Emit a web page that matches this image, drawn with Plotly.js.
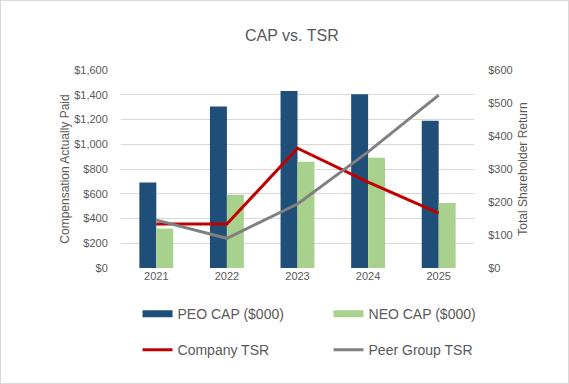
<!DOCTYPE html>
<html>
<head>
<meta charset="utf-8">
<script src="https://cdn.plot.ly/plotly-3.0.1.min.js"></script>
<style>
html,body{margin:0;padding:0;background:#fff;}
#wrap{position:relative;width:569px;height:384px;}
#chart{position:absolute;left:0;top:0;width:569px;height:384px;}
#frame{position:absolute;left:0;top:0;width:569px;height:384px;box-sizing:border-box;border:1px solid #d9d9d9;pointer-events:none;}
</style>
</head>
<body>
<div id="wrap"><div id="chart"></div><div id="frame"></div></div>
<script>
var years = ['2021', '2022', '2023', '2024', '2025'];
var peoCap = [690, 1305, 1430, 1405, 1190];
var neoCap = [318, 592, 858, 890, 525];
var companyTsr = [133, 133, 363, 260, 166];
var peerTsr = [145, 90, 194, 352, 524];

var TXT = '#595959';
var FONT = 'Liberation Sans, Arial, sans-serif';
var PEO_COLOR = '#1F4E79', NEO_COLOR = '#A9D18E', CO_COLOR = '#C00000', PEER_COLOR = '#808080';

var traces = [
  {type: 'bar', x: years, y: peoCap, name: 'PEO CAP ($000)', marker: {color: PEO_COLOR}, showlegend: false, hoverinfo: 'y'},
  {type: 'bar', x: years, y: neoCap, name: 'NEO CAP ($000)', marker: {color: NEO_COLOR}, showlegend: false, hoverinfo: 'y'},
  {type: 'scatter', mode: 'lines', x: years, y: companyTsr, yaxis: 'y2', name: 'Company TSR', line: {color: CO_COLOR, width: 3}, showlegend: false},
  {type: 'scatter', mode: 'lines', x: years, y: peerTsr, yaxis: 'y2', name: 'Peer Group TSR', line: {color: PEER_COLOR, width: 3}, showlegend: false},
  // legend entries
  {type: 'scatter', mode: 'lines', x: [null], y: [null], name: 'PEO CAP ($000)', line: {color: PEO_COLOR, width: 7}, legend: 'legend'},
  {type: 'scatter', mode: 'lines', x: [null], y: [null], name: 'NEO CAP ($000)', line: {color: NEO_COLOR, width: 7}, legend: 'legend'},
  {type: 'scatter', mode: 'lines', x: [null], y: [null], name: 'Company TSR', line: {color: CO_COLOR, width: 3}, legend: 'legend2'},
  {type: 'scatter', mode: 'lines', x: [null], y: [null], name: 'Peer Group TSR', line: {color: PEER_COLOR, width: 3}, legend: 'legend2'}
];

var legendBase = {
  orientation: 'h', xanchor: 'right', yanchor: 'middle', x: 1.129,
  entrywidth: 146, entrywidthmode: 'pixels', itemwidth: 30,
  font: {family: FONT, size: 14, color: TXT}, bgcolor: 'rgba(0,0,0,0)',
  itemclick: false, itemdoubleclick: false
};

var layout = {
  width: 569, height: 384,
  margin: {l: 121, r: 95, t: 70, b: 116, pad: 0},
  paper_bgcolor: '#ffffff', plot_bgcolor: '#ffffff',
  font: {family: FONT, size: 11, color: TXT},
  title: {text: 'CAP vs. TSR', font: {family: FONT, size: 16, color: TXT}, x: 0.513, xanchor: 'center', y: 0.908, yanchor: 'middle'},
  barmode: 'group', bargap: 0.52, bargroupgap: 0,
  xaxis: {type: 'category', showgrid: false, zeroline: false, showline: false, ticks: '', tickfont: {size: 11, color: TXT}, fixedrange: true},
  yaxis: {range: [0, 1600], dtick: 200, tickprefix: '$', tickformat: ',.0f', showgrid: true, gridcolor: '#D9D9D9', gridwidth: 1, zeroline: false, showline: false, ticks: 'outside', ticklen: 10, tickcolor: 'rgba(0,0,0,0)',
          tickfont: {size: 11, color: TXT}, title: {text: 'Compensation Actually Paid', font: {size: 12, color: TXT}, standoff: 1}, fixedrange: true},
  yaxis2: {overlaying: 'y', side: 'right', range: [0, 600], dtick: 100, tickprefix: '$', showgrid: false, zeroline: false, showline: false, ticks: 'outside', ticklen: 11, tickcolor: 'rgba(0,0,0,0)',
           tickfont: {size: 11, color: TXT}, title: {text: 'Total Shareholder Return', font: {size: 12, color: TXT}, standoff: 6}, fixedrange: true},
  legend: Object.assign({}, legendBase, {y: -0.233}),
  legend2: Object.assign({}, legendBase, {y: -0.415}),
  showlegend: true
};

Plotly.newPlot('chart', traces, layout, {displayModeBar: false, staticPlot: true});
</script>
</body>
</html>
